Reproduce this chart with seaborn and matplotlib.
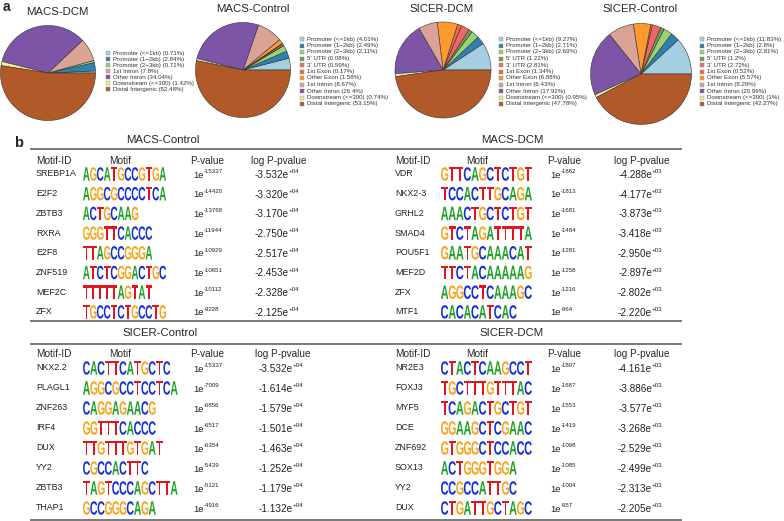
import matplotlib
matplotlib.use("Agg")
import matplotlib.pyplot as plt
import matplotlib.transforms as mtrans
import seaborn as sns
from matplotlib.textpath import TextPath
from matplotlib.patches import PathPatch, Rectangle
from matplotlib.font_manager import FontProperties

sns.set_theme(style="white")
plt.rcParams["font.family"] = ["Liberation Sans", "DejaVu Sans"]

# ---- panel a: peak annotation pies ----
categories = ["Promoter (<=1kb)", "Promoter (1\u22122kb)", "Promoter (2\u22123kb)", "5' UTR", "3' UTR",
              "1st Exon", "Other Exon", "1st Intron", "Other Intron", "Downstream (<=300)",
              "Distal Intergenic"]
cat_colors = ["#A6CEE3", "#2E82B0", "#99D277", "#6F9E4D", "#F16767", "#F06C46",
              "#FE992C", "#DAA396", "#7D54A6", "#F0EC99", "#B15928"]

macs_dcm_cats = ["Promoter (<=1kb)", "Promoter (1\u22122kb)", "Promoter (2\u22123kb)", "1st Intron",
                 "Other Intron", "Downstream (<=300)", "Distal Intergenic"]
macs_dcm_pct = [0.71, 2.84, 0.71, 7.8, 34.04, 1.42, 52.48]
macs_ctrl_pct = [4.01, 2.49, 2.11, 0.08, 0.59, 0.17, 1.58, 8.67, 26.4, 0.74, 53.15]
sicer_dcm_pct = [9.27, 2.71, 2.69, 1.22, 2.81, 1.34, 6.88, 6.43, 17.92, 0.95, 47.78]
sicer_ctrl_pct = [11.83, 2.8, 2.81, 1.2, 2.72, 0.52, 5.57, 8.29, 20.99, 1, 42.27]

pies = [
    # title, categories, values, (cx, cy, r), title xy, legend x, legend y0, legend dy
    ("MACS-DCM", macs_dcm_cats, macs_dcm_pct, (48, 73, 48), (57, 12), 108, 53, 6.0),
    ("MACS-Control", categories, macs_ctrl_pct, (243, 70, 48), (253, 9), 302, 39, 6.5),
    ("SICER-DCM", categories, sicer_dcm_pct, (443, 70, 48.5), (442, 9), 501, 39, 6.5),
    ("SICER-Control", categories, sicer_ctrl_pct, (641, 74, 51), (640, 9), 702, 39, 6.5),
]

# ---- panel b: HOMER known motif tables ----
macs_ctrl_ids = ["SREBP1A", "E2F2", "ZBTB3", "RXRA", "E2F8", "ZNF519", "MEF2C", "ZFX"]
macs_ctrl_motifs = ["AGCATGCCGTGA", "AGGCGCCCCTCA", "ACTGCAAG", "GGGTTCACCC",
                    "TTAGCCGGGA", "ATCTCGGACTGC", "TTTTTAGTAT", "TGCCTCTGCCTG"]
macs_ctrl_exp = [15337, 14420, 13768, 11944, 10929, 10651, 10112, 9228]
macs_ctrl_log = [-3.532e4, -3.320e4, -3.170e4, -2.750e4, -2.517e4, -2.453e4, -2.328e4, -2.125e4]

macs_dcm_ids = ["VDR", "NKX2-3", "GRHL2", "SMAD4", "POU5F1", "MEF2D", "ZFX", "MTF1"]
macs_dcm_motifs = ["GTTCAGCTCTGT", "TCCACTTGCAGA", "AAACTGCTCTGT", "GTCTAGATTTTA",
                   "GAATGCAAACAT", "TTCTACAAAAAG", "AGGCCTCAAAGC", "CACACATCAC"]
macs_dcm_exp = [1862, 1813, 1681, 1484, 1281, 1258, 1216, 964]
macs_dcm_log = [-4.288e3, -4.177e3, -3.873e3, -3.418e3, -2.950e3, -2.897e3, -2.802e3, -2.220e3]

sicer_ctrl_ids = ["NKX2.2", "PLAGL1", "ZNF263", "IRF4", "DUX", "YY2", "ZBTB3", "THAP1"]
sicer_ctrl_motifs = ["CACTTCATGCTC", "AGGCGCCTCCTCA", "CAGGAGAACG", "GGTTTCACCC",
                     "TTGTTTGTGAT", "CGCCACTTC", "TAGTCCCAGCTTA", "GCCGGGCAGA"]
sicer_ctrl_exp = [15337, 7009, 6856, 6517, 6354, 5439, 5121, 4916]
sicer_ctrl_log = [-3.532e4, -1.614e4, -1.579e4, -1.501e4, -1.463e4, -1.252e4, -1.179e4, -1.132e4]

sicer_dcm_ids = ["NR2E3", "FOXJ3", "MYF5", "DCE", "ZNF692", "SOX13", "YY2", "DUX"]
sicer_dcm_motifs = ["CTACTCAAGCCT", "TGCTTTGTTTAC", "TCAGACTGCTGT", "GGAAGCTCGAAC",
                    "GTGGGCTCCACC", "ACTGGGTGGA", "CCGCCATTGC", "CTGATTGCTAGC"]
sicer_dcm_exp = [1807, 1687, 1553, 1419, 1098, 1085, 1004, 957]
sicer_dcm_log = [-4.161e3, -3.886e3, -3.577e3, -3.268e3, -2.529e3, -2.499e3, -2.313e3, -2.205e3]

base_colors = {"A": "#22A12A", "C": "#1430D8", "G": "#F7A51C", "T": "#E3141B"}
logo_font = FontProperties(family="Liberation Sans", weight="bold")

W, H = 784, 521
fig = plt.figure(figsize=(W / 100, H / 100), dpi=100)
ax = fig.add_axes([0, 0, 1, 1])
ax.set_xlim(0, W)
ax.set_ylim(H, 0)
ax.axis("off")

color_of = dict(zip(categories, cat_colors))

for title, cats, vals, (cx, cy, r), (tx, ty), lx, ly0, ldy in pies:
    pax = fig.add_axes([(cx - r) / W, 1 - (cy + r) / H, 2 * r / W, 2 * r / H])
    pax.pie(vals, colors=[color_of[c] for c in cats], startangle=0, counterclock=True,
            wedgeprops=dict(edgecolor="#333333", linewidth=0.4))
    pax.set_xlim(-1.01, 1.01)
    pax.set_ylim(-1.01, 1.01)
    pax.set_aspect("equal")
    pax.axis("off")
    ax.text(tx, ty, title, fontsize=8.2, ha="center", va="center")
    for i, (c, v) in enumerate(zip(cats, vals)):
        y = ly0 + i * ldy
        ax.add_patch(Rectangle((lx - 2, y - 2), 4, 4, facecolor=color_of[c],
                               edgecolor="#888888", linewidth=0.3))
        ax.text(lx + 5, y, f"{c} ({v:g}%)", fontsize=4.4, ha="left", va="center",
                color="#333333")

ax.text(3, 7, "a", fontsize=10, fontweight="bold", ha="left", va="center")
ax.text(14, 143, "b", fontsize=10.5, fontweight="bold", ha="left", va="center")


def draw_logo(seq, x0, yc, w, h):
    for k, ch in enumerate(seq):
        tp = TextPath((0, 0), ch, size=1, prop=logo_font)
        bb = tp.get_extents()
        t = (mtrans.Affine2D().translate(-bb.x0, -bb.y0)
             .scale(w * 0.96 / bb.width, -h / bb.height)
             .translate(x0 + k * w, yc + h / 2))
        ax.add_patch(PathPatch(t.transform_path(tp), facecolor=base_colors[ch],
                               edgecolor="none", linewidth=0))


def sci_text(x_join, y, base, sup, size):
    # base text ending at x_join with a small superscript right after it
    ax.text(x_join, y + 1, base, fontsize=size, ha="right", va="center", color="#222222")
    ax.text(x_join - 0.4, y - 2.5, sup, fontsize=4.4, ha="left", va="center", color="#222222")


tables = [
    ("MACS-Control", macs_ctrl_ids, macs_ctrl_motifs, macs_ctrl_exp, macs_ctrl_log,
     36, 83, 6.95, 120, 208, 277, 163, 140, 161, 174, 19.7),
    ("MACS-DCM", macs_dcm_ids, macs_dcm_motifs, macs_dcm_exp, macs_dcm_log,
     395, 441, 7.6, 477, 565, 640, 512, 140, 161, 174, 19.7),
    ("SICER-Control", sicer_ctrl_ids, sicer_ctrl_motifs, sicer_ctrl_exp, sicer_ctrl_log,
     36, 83, 7.3, 120, 208, 281, 160, 333, 354, 368, 20.0),
    ("SICER-DCM", sicer_dcm_ids, sicer_dcm_motifs, sicer_dcm_exp, sicer_dcm_log,
     395, 441, 7.6, 477, 565, 640, 512, 333, 354, 368, 20.0),
]

for (title, ids, motifs, exps, logs, x_id, x_motif, lw_, x_mh, x_p, x_log,
     x_title, y_title, y_head, y_row0, dy) in tables:
    ax.text(x_title, y_title, title, fontsize=8.2, ha="center", va="center")
    ax.text(x_id, y_head, "Motif-ID", fontsize=7.2, ha="left", va="center")
    ax.text(x_mh, y_head, "Motif", fontsize=7.2, ha="center", va="center")
    ax.text(x_p - 1, y_head, "P-value", fontsize=7.2, ha="center", va="center")
    ax.text(x_log + 2, y_head, "log P-pvalue", fontsize=7.2, ha="center", va="center")
    for i, (name, seq, e, lv) in enumerate(zip(ids, motifs, exps, logs)):
        y = y_row0 + i * dy
        ax.text(x_id, y, name, fontsize=6.4, ha="left", va="center", color="#222222")
        draw_logo(seq, x_motif, y, lw_, 13.5)
        sci_text(x_p - 4, y, "1e", f"-{e}", 6.8)
        mant, ex = f"{lv:.3e}".split("e")
        sci_text(x_log + 12, y, f"{mant}e", ex, 7.2)

for y in [149, 321, 344, 520]:
    ax.plot([30, 682], [y, y], color="#6e6e6e", linewidth=1.3, solid_capstyle="butt")

fig.savefig("out.png", dpi=100)
